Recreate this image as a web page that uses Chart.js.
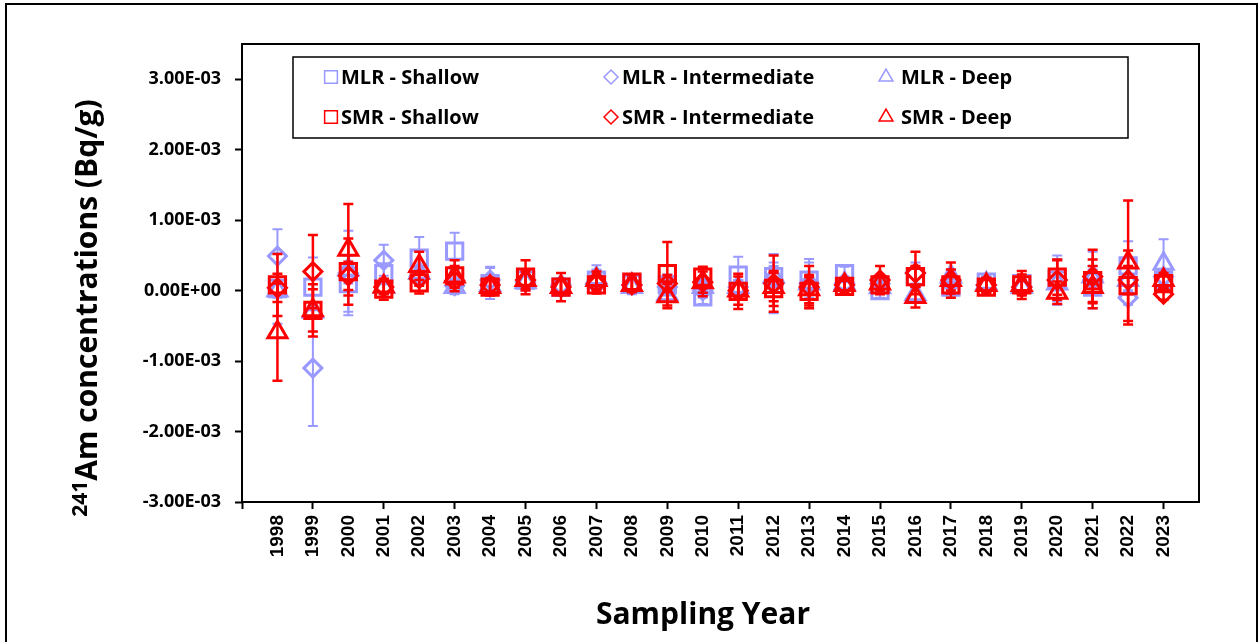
<!DOCTYPE html>
<html>
<head>
<meta charset="utf-8">
<script src="https://cdn.jsdelivr.net/npm/chart.js@4.4.1/dist/chart.umd.min.js"></script>
<style>
  html, body { margin: 0; padding: 0; background: #fff; }
  canvas { display: block; }
</style>
</head>
<body>
<canvas id="chart" width="1259" height="642"></canvas>
<script>
// Sampling years, axis range and tick values
const years = [1998, 1999, 2000, 2001, 2002, 2003, 2004, 2005, 2006, 2007, 2008, 2009, 2010,
               2011, 2012, 2013, 2014, 2015, 2016, 2017, 2018, 2019, 2020, 2021, 2022, 2023];
const xMin = 1997;
const xMax = 2024;
const yTicks = [-3e-3, -2e-3, -1e-3, 0, 1e-3, 2e-3, 3e-3];
const yMin = -3e-3;
const yMax = 3.5e-3;

// concentrations in units of 1E-03 Bq/g, with +/- uncertainty
const UNIT = 1e-3;
const mlrShallow =    [0.03, 0.05, 0.10, 0.24, 0.46, 0.56, 0.10, 0.15, 0.05, 0.15, 0.10, 0.08, -0.09, 0.22, 0.20, 0.15, 0.24, 0.00, 0.20, 0.05, 0.12, 0.10, 0.15, 0.05, 0.35, 0.15];
const mlrShallowErr = [0.50, 0.42, 0.40, 0.15, 0.30, 0.26, 0.22, 0.15, 0.12, 0.15, 0.10, 0.15, 0.10, 0.26, 0.15, 0.25, 0.10, 0.10, 0.15, 0.12, 0.08, 0.10, 0.30, 0.30, 0.35, 0.12];
const mlrInter =      [0.49, -1.10, 0.25, 0.43, 0.20, 0.07, 0.15, 0.12, 0.08, 0.12, 0.08, 0.05, 0.00, 0.05, 0.10, 0.10, 0.10, 0.10, 0.25, 0.10, 0.08, 0.05, 0.15, 0.15, -0.10, 0.20];
const mlrInterErr =   [0.38, 0.82, 0.60, 0.22, 0.10, 0.10, 0.19, 0.10, 0.10, 0.10, 0.08, 0.10, 0.10, 0.10, 0.42, 0.35, 0.08, 0.10, 0.15, 0.10, 0.10, 0.10, 0.35, 0.40, 0.10, 0.10];
const mlrDeep =       [0.00, -0.30, 0.30, 0.05, 0.25, 0.05, 0.08, 0.12, 0.05, 0.18, 0.05, -0.05, 0.05, 0.05, 0.20, 0.10, 0.10, 0.05, -0.05, 0.20, 0.10, 0.05, 0.10, 0.20, 0.15, 0.38];
const mlrDeepErr =    [0.10, 0.10, 0.20, 0.10, 0.10, 0.10, 0.10, 0.10, 0.10, 0.18, 0.10, 0.10, 0.10, 0.10, 0.20, 0.10, 0.10, 0.10, 0.10, 0.10, 0.10, 0.08, 0.10, 0.10, 0.20, 0.35];
const smrShallow =    [0.08, -0.28, 0.27, 0.02, 0.11, 0.21, 0.05, 0.19, 0.05, 0.08, 0.12, 0.24, 0.19, -0.01, 0.03, -0.01, 0.06, 0.08, 0.20, 0.08, 0.05, 0.08, 0.19, 0.14, 0.07, 0.10];
const smrShallowErr = [0.44, 0.37, 0.47, 0.15, 0.15, 0.22, 0.12, 0.24, 0.20, 0.12, 0.10, 0.45, 0.15, 0.25, 0.25, 0.20, 0.08, 0.12, 0.15, 0.12, 0.10, 0.20, 0.25, 0.30, 0.50, 0.10];
const smrInter =      [0.04, 0.27, 0.21, 0.05, 0.17, 0.14, 0.08, 0.15, 0.05, 0.10, 0.08, 0.10, 0.12, 0.00, 0.10, 0.05, 0.08, 0.15, 0.25, 0.15, 0.08, 0.05, 0.15, 0.20, 0.15, -0.05];
const smrInterErr =   [0.20, 0.52, 0.20, 0.10, 0.10, 0.10, 0.10, 0.12, 0.10, 0.10, 0.10, 0.12, 0.20, 0.10, 0.40, 0.30, 0.08, 0.20, 0.30, 0.25, 0.10, 0.10, 0.28, 0.38, 0.20, 0.08];
const smrDeep =       [-0.59, -0.28, 0.58, 0.06, 0.35, 0.20, 0.05, 0.15, 0.05, 0.15, 0.08, -0.08, 0.12, 0.00, 0.05, 0.02, 0.08, 0.10, -0.09, 0.15, 0.08, 0.08, -0.03, 0.05, 0.40, 0.15];
const smrDeepErr =    [0.69, 0.30, 0.65, 0.10, 0.20, 0.15, 0.10, 0.15, 0.10, 0.12, 0.10, 0.17, 0.15, 0.20, 0.20, 0.20, 0.08, 0.10, 0.15, 0.15, 0.10, 0.15, 0.16, 0.30, 0.88, 0.10];

const BLUE = '#9999ff';
const RED = '#ff0000';

function points(values) {
    return values.map((v, i) => ({ x: years[i], y: v * UNIT }));
}

function makeSeries(label, values, errors, color, style, radius, order) {
    return {
        label: label,
        data: points(values),
        errors: errors.map(e => e * UNIT),
        errWidth: color === RED ? 2.5 : 2,
        showLine: false,
        pointStyle: style,
        pointRadius: radius,
        pointHoverRadius: radius,
        pointBorderWidth: 3,
        borderColor: color,
        backgroundColor: 'rgba(0,0,0,0)',
        order: order
    };
}

// 3.00E-03 style labels
function sciLabel(v) {
    if (v === 0) return '0.00E+00';
    const parts = v.toExponential(2).toUpperCase().split('E');
    const exp = parseInt(parts[1], 10);
    const sign = exp < 0 ? '-' : '+';
    return parts[0] + 'E' + sign + String(Math.abs(exp)).padStart(2, '0');
}

// error bars, drawn under each dataset's own markers
const errorBars = {
    id: 'errorBars',
    beforeDatasetDraw(chart, args) {
        const ds = chart.data.datasets[args.index];
        const xs = chart.scales.x;
        const ys = chart.scales.y;
        const ctx = chart.ctx;
        ctx.save();
        ctx.strokeStyle = ds.borderColor;
        ctx.lineWidth = ds.errWidth;
        ds.data.forEach((p, i) => {
            const e = ds.errors[i];
            const x = xs.getPixelForValue(p.x);
            const yt = ys.getPixelForValue(p.y + e);
            const yb = ys.getPixelForValue(p.y - e);
            ctx.beginPath();
            ctx.moveTo(x, yt);
            ctx.lineTo(x, yb);
            ctx.moveTo(x - 5, yt);
            ctx.lineTo(x + 5, yt);
            ctx.moveTo(x - 5, yb);
            ctx.lineTo(x + 5, yb);
            ctx.stroke();
        });
        ctx.restore();
    }
};

// frame, plot border, axis titles and boxed legend
const decorations = {
    id: 'decorations',
    beforeDraw(chart) {
        const ctx = chart.ctx;
        ctx.save();
        ctx.fillStyle = '#fff';
        ctx.fillRect(0, 0, chart.width, chart.height);
        ctx.strokeStyle = '#000';
        ctx.lineWidth = 2;
        ctx.strokeRect(6, 4, chart.width - 8, chart.height + 20);
        ctx.restore();
    },
    afterDraw(chart) {
        const ctx = chart.ctx;
        const area = chart.chartArea;
        ctx.save();
        ctx.strokeStyle = '#000';
        ctx.lineWidth = 2;
        ctx.strokeRect(area.left, area.top, area.right - area.left, area.bottom - area.top);

        // y title with superscript
        ctx.fillStyle = '#000';
        const supFont = 'bold 21px "Open Sans"';
        const mainFont = 'bold 30px "Open Sans"';
        const sup = '241';
        const main = 'Am concentrations (Bq/g)';
        ctx.font = supFont;
        const supW = ctx.measureText(sup).width;
        ctx.font = mainFont;
        const mainW = ctx.measureText(main).width;
        ctx.translate(86, 308);
        ctx.rotate(-Math.PI / 2);
        ctx.textAlign = 'left';
        ctx.textBaseline = 'alphabetic';
        const start = -(supW + mainW) / 2;
        ctx.font = supFont;
        ctx.fillText(sup, start, 1);
        ctx.font = mainFont;
        ctx.fillText(main, start + supW, 11);
        ctx.setTransform(1, 0, 0, 1, 0, 0);

        // x title
        ctx.font = 'bold 30px "Open Sans"';
        ctx.textAlign = 'center';
        ctx.textBaseline = 'middle';
        ctx.fillText('Sampling Year', 703, 615);

        // legend
        ctx.lineWidth = 1.5;
        ctx.strokeRect(293, 57, 835, 81);
        const cols = [[331, 341], [611, 622], [886, 901]];
        const rows = [77, 117];
        const sizes = { rect: 9, rectRot: 7, triangle: 8 };
        ctx.font = 'bold 20px "Open Sans"';
        ctx.textAlign = 'left';
        ctx.textBaseline = 'middle';
        chart.data.datasets.forEach((ds) => {
            const col = cols[ds.legendCol];
            const y = rows[ds.legendRow];
            ctx.strokeStyle = ds.borderColor;
            ctx.fillStyle = 'rgba(0,0,0,0)';
            Chart.helpers.drawPoint(ctx, {
                pointStyle: ds.pointStyle,
                radius: sizes[ds.pointStyle],
                borderWidth: 2.5,
                rotation: 0
            }, col[0], y);
            ctx.fillStyle = '#000';
            ctx.fillText(ds.label, col[1], y + 1);
        });
        ctx.restore();
    }
};

const datasets = [
    Object.assign(makeSeries('MLR - Shallow', mlrShallow, mlrShallowErr, BLUE, 'rect', 11.5, 5), { legendCol: 0, legendRow: 0 }),
    Object.assign(makeSeries('MLR - Intermediate', mlrInter, mlrInterErr, BLUE, 'rectRot', 9, 4), { legendCol: 1, legendRow: 0 }),
    Object.assign(makeSeries('MLR - Deep', mlrDeep, mlrDeepErr, BLUE, 'triangle', 11, 3), { legendCol: 2, legendRow: 0 }),
    Object.assign(makeSeries('SMR - Shallow', smrShallow, smrShallowErr, RED, 'rect', 11.5, 2), { legendCol: 0, legendRow: 1 }),
    Object.assign(makeSeries('SMR - Intermediate', smrInter, smrInterErr, RED, 'rectRot', 9, 1), { legendCol: 1, legendRow: 1 }),
    Object.assign(makeSeries('SMR - Deep', smrDeep, smrDeepErr, RED, 'triangle', 11, 0), { legendCol: 2, legendRow: 1 })
];

new Chart(document.getElementById('chart'), {
    type: 'scatter',
    data: { datasets: datasets },
    plugins: [errorBars, decorations],
    options: {
        responsive: false,
        animation: false,
        layout: { padding: { left: 0, top: 44, right: 60, bottom: 0 } },
        plugins: {
            legend: { display: false },
            tooltip: { enabled: false }
        },
        scales: {
            x: {
                type: 'linear',
                min: xMin,
                max: xMax,
                afterBuildTicks: (scale) => {
                    const t = [];
                    for (let v = xMin; v <= xMax; v++) t.push({ value: v });
                    scale.ticks = t;
                },
                afterFit: (scale) => { scale.height = 140; },
                border: { display: false },
                grid: {
                    drawOnChartArea: false,
                    drawTicks: true,
                    tickLength: 7,
                    tickWidth: 2,
                    tickColor: (ctx) => (ctx.tick && ctx.tick.value % 2 !== 0) ? '#000' : 'rgba(0,0,0,0)'
                },
                ticks: {
                    autoSkip: false,
                    maxRotation: 90,
                    minRotation: 90,
                    padding: 6,
                    color: '#000',
                    font: { family: 'Liberation Sans', size: 19, weight: 'bold' },
                    callback: (v) => years.includes(v) ? String(v) : ''
                }
            },
            y: {
                min: yMin,
                max: yMax,
                afterBuildTicks: (scale) => {
                    scale.ticks = yTicks.map(v => ({ value: v }));
                },
                afterFit: (scale) => { scale.width = 242; },
                border: { display: false },
                grid: {
                    drawOnChartArea: false,
                    drawTicks: true,
                    tickLength: 7,
                    tickWidth: 2,
                    tickColor: '#000'
                },
                ticks: {
                    padding: 14,
                    color: '#000',
                    font: { family: 'Open Sans', size: 18, weight: 'bold' },
                    callback: (v) => sciLabel(v)
                }
            }
        }
    }
});
</script>
</body>
</html>
